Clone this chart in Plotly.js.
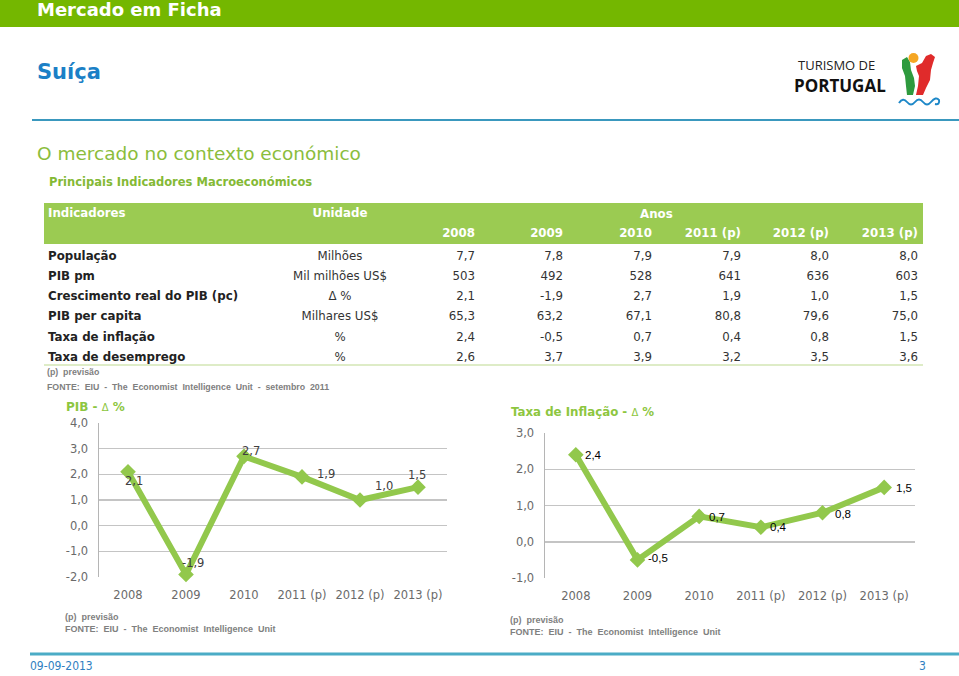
<!DOCTYPE html>
<html><head><meta charset="utf-8">
<script src="https://cdn.plot.ly/plotly-3.0.1.min.js"></script>
<style>html,body{margin:0;padding:0;background:#fff;}#chart{width:959px;height:676px;}</style>
</head><body><div id="chart"></div>
<script>
// ---------- data ----------
const yearLabels = ['2008','2009','2010','2011 (p)','2012 (p)','2013 (p)'];
const indicators = ['População','PIB pm','Crescimento real do PIB (pc)','PIB per capita','Taxa de inflação','Taxa de desemprego'];
const units = ['Milhões','Mil milhões US$','Δ %','Milhares US$','%','%'];
const populacao = [7.7,7.8,7.9,7.9,8.0,8.0];
const pibPm = [503,492,528,641,636,603];
const crescimentoPib = [2.1,-1.9,2.7,1.9,1.0,1.5];
const pibPerCapita = [65.3,63.2,67.1,80.8,79.6,75.0];
const inflacao = [2.4,-0.5,0.7,0.4,0.8,1.5];
const desemprego = [2.6,3.7,3.9,3.2,3.5,3.6];
const pibTicks = [-2,-1,0,1,2,3,4];
const inflTicks = [-1,0,1,2,3];

// ---------- helpers ----------
const W = 959, H = 676;
const px = x => x / W, py = y => 1 - y / H;
const fmt = (v, d) => v.toFixed(d).replace('.', ',');
const rows = [populacao, pibPm, crescimentoPib, pibPerCapita, inflacao, desemprego];
const decimals = [1,0,1,1,1,1];

const GREEN_HEAD = '#9BCB52';
const LINE_GREEN = '#92C84C';
const TXT = '#333333';
const VF = 'DejaVu Sans, Verdana, sans-serif';
const SMALL = 'Liberation Sans, Arial, sans-serif';

// ---------- table (text traces on a hidden grid axis) ----------
const colX = [48, 340, 475, 563, 652, 741, 829, 918];   // column anchor positions (layout)
const dataRowPos = indicators.map((_, i) => i + 1.1);   // -1 header, 0 years, then data rows
const traces = [];
function tableCol(x, ys, texts, colors, pos) {
  traces.push({type: 'scatter', mode: 'text', xaxis: 'x3', yaxis: 'y3', cliponaxis: false, hoverinfo: 'skip',
    x: ys.map(() => x), y: ys, text: texts, textposition: pos,
    textfont: {family: VF, size: 11.8, color: colors}});
}
tableCol(colX[0], [-1].concat(dataRowPos), ['<b>Indicadores</b>'].concat(indicators.map(s => '<b>' + s + '</b>')),
  ['#ffffff'].concat(indicators.map(() => '#222222')), 'middle right');
tableCol(colX[1], [-1].concat(dataRowPos), ['<b>Unidade</b>'].concat(units),
  ['#ffffff'].concat(units.map(() => TXT)), 'middle center');
yearLabels.forEach((y, j) => {
  tableCol(colX[j + 2], [0].concat(dataRowPos), ['<b>' + y + '</b>'].concat(rows.map((r, i) => fmt(r[j], decimals[i]))),
    ['#ffffff'].concat(rows.map(() => TXT)), 'middle left');
});

// ---------- line charts ----------
traces.push({
  type: 'scatter', mode: 'lines+markers', x: yearLabels, y: crescimentoPib,
  xaxis: 'x', yaxis: 'y', cliponaxis: false, hoverinfo: 'skip',
  line: {color: LINE_GREEN, width: 6},
  marker: {symbol: 'diamond', size: 12, color: LINE_GREEN}
});
traces.push({
  type: 'scatter', mode: 'lines+markers', x: yearLabels, y: inflacao,
  xaxis: 'x2', yaxis: 'y2', cliponaxis: false, hoverinfo: 'skip',
  line: {color: LINE_GREEN, width: 6},
  marker: {symbol: 'diamond', size: 12, color: LINE_GREEN}
});

const pibOff = [[6,9],[7,-11],[7,-5],[24,-3],[24,-14],[-1,-12]];
const inflOff = [[18,0],[20,-2],[18,1],[18,0],[20,1],[20,1]];

const ann = [];
crescimentoPib.forEach((v, i) => ann.push({
  xref: 'x', yref: 'y', x: i, y: v, text: fmt(v,1), showarrow: false,
  xshift: pibOff[i][0], yshift: -pibOff[i][1],
  font: {family: VF, size: 11.5, color: '#404040'}
}));
inflacao.forEach((v, i) => ann.push({
  xref: 'x2', yref: 'y2', x: i, y: v, text: fmt(v,1), showarrow: false,
  xshift: inflOff[i][0], yshift: -inflOff[i][1],
  font: {family: SMALL, size: 11.5, color: '#000000'}
}));

function txt(x, y, text, size, color, family, anchor) {
  ann.push({xref: 'paper', yref: 'paper', x: px(x), y: py(y), text: text, showarrow: false,
    xanchor: anchor || 'left', yanchor: 'middle', font: {family: family || VF, size: size, color: color}});
}
txt(35, 9, '<b>Mercado em Ficha</b>', 18, '#ffffff');
txt(35, 72, '<b>Suíça</b>', 21, '#1B80C6');
txt(35, 154, 'O mercado no contexto económico', 18.5, '#8BBD3C');
txt(47, 182, '<b>Principais Indicadores Macroeconómicos</b>', 11.5, '#84B935');
txt(656, 214, '<b>Anos</b>', 11.8, '#ffffff', VF, 'center');
txt(45, 372, '<b>(p)  previsão</b>', 8.8, '#808080', SMALL);
txt(45, 387, '<b>FONTE:  EIU  -  The  Economist  Intelligence  Unit  -  setembro  2011</b>', 8.8, '#808080', SMALL);
txt(64, 407, '<b>PIB - </b><span style="font-size:10px">Δ</span><b> %</b>', 12, '#8DC63F');
txt(509, 412, '<b>Taxa de Inflação - </b><span style="font-size:10px">Δ</span><b> %</b>', 11.8, '#8DC63F');
txt(63, 617, '<b>(p)  previsão</b>', 9, '#808080', SMALL);
txt(63, 629, '<b>FONTE:  EIU  -  The  Economist  Intelligence  Unit</b>', 9, '#808080', SMALL);
txt(508, 620, '<b>(p)  previsão</b>', 9, '#808080', SMALL);
txt(508, 632, '<b>FONTE:  EIU  -  The  Economist  Intelligence  Unit</b>', 9, '#808080', SMALL);
txt(796, 65, 'TURISMO DE', 13, '#222222', 'Open Sans, sans-serif');
txt(792, 85, '<b>PORTUGAL</b>', 17, '#111111', 'Open Sans, sans-serif');
txt(28, 666, '09-09-2013', 12, '#2F7FC1', 'DejaVu Sans Condensed, Liberation Sans Narrow, sans-serif');
txt(917, 666, '3', 12, '#2F7FC1', 'DejaVu Sans Condensed, sans-serif');

// ---------- shapes ----------
function path(pts, close) {
  return pts.map((p, i) => (i ? 'L' : 'M') + px(p[0]).toFixed(5) + ',' + py(p[1]).toFixed(5)).join(' ') + (close ? ' Z' : '');
}
const shapes = [
  {type: 'rect', xref: 'paper', yref: 'paper', x0: 0, x1: 1, y0: py(27), y1: 1, fillcolor: '#74B700', line: {width: 0}, layer: 'below'},
  {type: 'line', xref: 'paper', yref: 'paper', x0: px(32), x1: 1, y0: py(120), y1: py(120), line: {color: '#3A98BE', width: 2}},
  {type: 'rect', xref: 'paper', yref: 'paper', x0: px(44), x1: px(923), y0: py(244), y1: py(203), fillcolor: GREEN_HEAD, line: {width: 0}, layer: 'below'},
  {type: 'line', xref: 'paper', yref: 'paper', x0: px(44), x1: px(923), y0: py(365), y1: py(365), line: {color: '#D3E6B5', width: 1.5}},
  {type: 'line', xref: 'paper', yref: 'paper', x0: px(30), x1: 1, y0: py(654), y1: py(654), line: {color: '#4BACC6', width: 3}},
  // logo
  {type: 'path', xref: 'paper', yref: 'paper', fillcolor: '#2E9A3E', line: {width: 0},
   path: path([[902,60],[907,57],[910,62],[911,70],[914,78],[915,86],[913,95],[907,95],[906,86],[905,76],[902,68]], true)},
  {type: 'path', xref: 'paper', yref: 'paper', fillcolor: '#E02B2B', line: {width: 0},
   path: path([[916,66],[922,63],[926,56],[931,54],[935,57],[933,63],[931,70],[930,80],[926,88],[923,95],[916,95],[918,86],[919,76],[917,71]], true)},
  {type: 'circle', xref: 'paper', yref: 'paper', fillcolor: '#F5A623', line: {width: 0},
   x0: px(908.5), x1: px(918.5), y0: py(63), y1: py(53)},
  {type: 'path', xref: 'paper', yref: 'paper', line: {color: '#1E88C8', width: 2},
   path: 'M' + px(899) + ',' + py(103) + ' Q' + px(903) + ',' + py(97) + ' ' + px(907) + ',' + py(102) +
         ' T' + px(915) + ',' + py(102) + ' T' + px(923) + ',' + py(102) + ' T' + px(931) + ',' + py(102) +
         ' Q' + px(936) + ',' + py(96) + ' ' + px(939) + ',' + py(100) + ' Q' + px(940) + ',' + py(105) + ' ' + px(935) + ',' + py(104)}
];

// ---------- axes ----------
const tickFont = {family: VF, size: 11.5, color: '#6A6A6A'};
const xBase = {type: 'category', range: [-0.5, 5.5], showgrid: false, zeroline: false, showline: false,
  ticks: '', tickfont: tickFont, ticklabelstandoff: 9, fixedrange: true};
const yBase = {showgrid: true, gridcolor: '#C4C4C4', gridwidth: 1.5, zeroline: false, showline: true,
  linecolor: '#B5B5B5', linewidth: 1.5, ticks: '', tickfont: tickFont, ticklabelstandoff: 7, fixedrange: true};

const layout = {
  width: W, height: H, margin: {l: 0, r: 0, t: 0, b: 0},
  paper_bgcolor: '#ffffff', plot_bgcolor: 'rgba(0,0,0,0)', showlegend: false,
  xaxis: Object.assign({}, xBase, {domain: [px(99), px(447)], anchor: 'y'}),
  yaxis: Object.assign({}, yBase, {domain: [py(577), py(423)], anchor: 'x', range: [-2, 4],
    tickvals: pibTicks, ticktext: pibTicks.map(v => fmt(v,1))}),
  xaxis2: Object.assign({}, xBase, {domain: [px(545), px(915)], anchor: 'y2'}),
  yaxis2: Object.assign({}, yBase, {domain: [py(578), py(433)], anchor: 'x2', range: [-1, 3],
    tickvals: inflTicks, ticktext: inflTicks.map(v => fmt(v,1))}),
  xaxis3: {domain: [0, 1], range: [0, W], visible: false, fixedrange: true, anchor: 'y3'},
  yaxis3: {domain: [py(366), py(204)], range: [6.5, -1.5], visible: false, fixedrange: true, anchor: 'x3'},
  annotations: ann,
  shapes: shapes
};

Plotly.newPlot('chart', traces, layout, {staticPlot: true, displayModeBar: false});
</script>
</body></html>
